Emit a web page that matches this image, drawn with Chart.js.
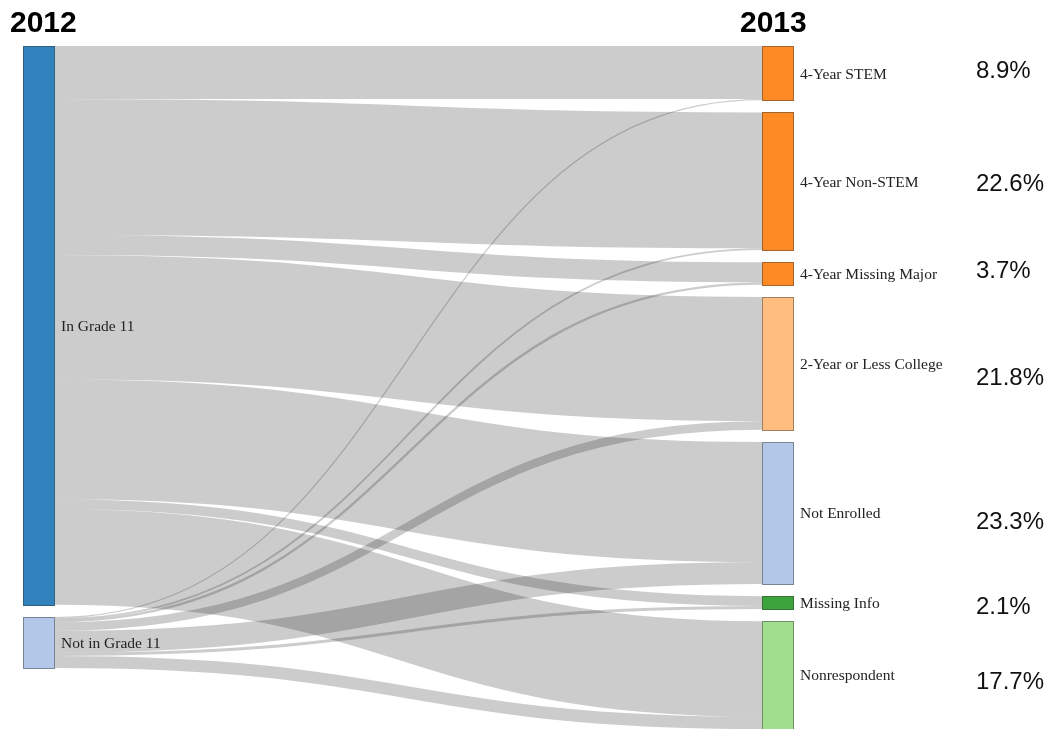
<!DOCTYPE html>
<html>
<head>
<meta charset="utf-8">
<title>2012 to 2013 flows</title>
<script src="https://cdn.jsdelivr.net/npm/chart.js@4.4.1/dist/chart.umd.min.js"></script>
<style>
    html, body { margin: 0; padding: 0; background: #fff; overflow: hidden; }
    #wrap { position: relative; width: 1050px; height: 729px; }
</style>
</head>
<body>
<div id="wrap"><canvas id="sankey"></canvas></div>
<script>
// Column titles
const columnTitles = ['2012', '2013'];

// Left column (2012) nodes
const sourceNodes = ['In Grade 11', 'Not in Grade 11'];
const sourceColors = ['#3182bd', '#b3c8e8'];

// Right column (2013) nodes
const targetNodes = ['4-Year STEM', '4-Year Non-STEM', '4-Year Missing Major', '2-Year or Less College', 'Not Enrolled', 'Missing Info', 'Nonrespondent'];
const targetColors = ['#fd8a24', '#fd8a24', '#fd8a24', '#ffbd80', '#b3c8e8', '#3ca43c', '#a1df8f'];

// Flows, in percent of all students, one value per 2013 node
const fromInGrade11 = [8.7, 22.3, 3.3, 20.4, 19.7, 1.6, 15.7];
const fromNotInGrade11 = [0.2, 0.3, 0.4, 1.4, 3.6, 0.5, 2.0];

// Share labels printed beside the 2013 column
const targetShares = ['8.9%', '22.6%', '3.7%', '21.8%', '23.3%', '2.1%', '17.7%'];

const flows = [fromInGrade11, fromNotInGrade11];
const NODE_PAD = 2;      // gap between nodes, in data units
const NODE_WIDTH = 32;   // px
// the share labels were placed by hand next to the nodes, not exactly centred
const shareNudge = [-2, 3, -2, 15, 9, 5, 7];

// lay out the nodes in data units (top to bottom)
function layoutColumn(values) {
    let y = 0;
    return values.map(v => {
        const n = { y0: y, y1: y + v, value: v };
        y += v + NODE_PAD;
        return n;
    });
}

const sourceTotals = flows.map(arr => arr.reduce((a, b) => a + b, 0));
const targetTotals = targetNodes.map((_, j) => flows.reduce((s, arr) => s + arr[j], 0));
const srcLayout = layoutColumn(sourceTotals);
const tgtLayout = layoutColumn(targetTotals);
const yMax = tgtLayout[tgtLayout.length - 1].y1;

function darker(hex) {
    const c = parseInt(hex.slice(1), 16);
    const f = 0.55;
    const r = Math.round(((c >> 16) & 255) * f);
    const g = Math.round(((c >> 8) & 255) * f);
    const b = Math.round((c & 255) * f);
    return `rgba(${r},${g},${b},0.8)`;
}

const sankeyPlugin = {
    id: 'sankeyPlugin',
    afterDraw(chart) {
        const { ctx, scales: { x, y } } = chart;
        const xl0 = x.getPixelForValue(0);
        const xl1 = xl0 + NODE_WIDTH;
        const xr1 = x.getPixelForValue(1);
        const xr0 = xr1 - NODE_WIDTH;
        ctx.save();

        // links: source offsets go down in target order, target offsets in source order
        const tgtOffset = tgtLayout.map(n => n.y0);
        srcLayout.forEach((src, i) => {
            let sy = src.y0;
            flows[i].forEach((v, j) => {
                const ya = y.getPixelForValue(sy + v / 2);
                const yb = y.getPixelForValue(tgtOffset[j] + v / 2);
                const w = Math.max(1, Math.abs(y.getPixelForValue(v) - y.getPixelForValue(0)));
                const xm = (xl1 + xr0) / 2;
                ctx.beginPath();
                ctx.moveTo(xl1, ya);
                ctx.bezierCurveTo(xm, ya, xm, yb, xr0, yb);
                ctx.strokeStyle = 'rgba(0,0,0,0.2)';
                ctx.lineWidth = w;
                ctx.stroke();
                sy += v;
                tgtOffset[j] += v;
            });
        });

        // nodes
        const drawNode = (x0, n, color) => {
            const top = Math.round(y.getPixelForValue(n.y0)) + 0.5;
            const bot = Math.round(y.getPixelForValue(n.y1)) + 0.5;
            ctx.fillStyle = color;
            ctx.fillRect(x0 + 0.5, top, NODE_WIDTH - 1, bot - top);
            ctx.strokeStyle = darker(color);
            ctx.lineWidth = 1;
            ctx.strokeRect(x0 + 0.5, top, NODE_WIDTH - 1, bot - top);
        };
        srcLayout.forEach((n, i) => drawNode(xl0, n, sourceColors[i]));
        tgtLayout.forEach((n, j) => drawNode(xr0, n, targetColors[j]));

        // node labels (baseline at centre + .35em, as d3 does)
        ctx.font = '15.5px "Liberation Serif", "Times New Roman", serif';
        ctx.textBaseline = 'alphabetic';
        ctx.textAlign = 'left';
        ctx.fillStyle = '#222';
        srcLayout.forEach((n, i) => {
            ctx.fillText(sourceNodes[i], xl1 + 6, y.getPixelForValue((n.y0 + n.y1) / 2) + 5.4);
        });
        tgtLayout.forEach((n, j) => {
            ctx.fillText(targetNodes[j], xr1 + 6, y.getPixelForValue((n.y0 + n.y1) / 2) + 5.4);
        });

        // share labels
        ctx.font = '24px "Liberation Sans", Arial, sans-serif';
        ctx.textBaseline = 'middle';
        ctx.fillStyle = '#111';
        tgtLayout.forEach((n, j) => {
            ctx.fillText(targetShares[j], xr1 + 182, y.getPixelForValue((n.y0 + n.y1) / 2) + shareNudge[j]);
        });

        // column titles
        ctx.font = 'bold 30px "Liberation Sans", Arial, sans-serif';
        ctx.textBaseline = 'alphabetic';
        ctx.fillStyle = '#000';
        ctx.fillText(columnTitles[0], xl0 - 13, 32);
        ctx.fillText(columnTitles[1], xr0 - 22, 32);

        ctx.restore();
    }
};

new Chart(document.getElementById('sankey'), {
    type: 'scatter',
    data: { datasets: [{ data: [] }] },
    options: {
        responsive: true,
        maintainAspectRatio: false,
        animation: false,
        layout: { padding: { left: 23, right: 256, top: 46, bottom: 0 } },
        plugins: { legend: { display: false }, tooltip: { enabled: false } },
        scales: {
            x: { type: 'linear', min: 0, max: 1, display: false },
            y: { type: 'linear', min: 0, max: yMax, reverse: true, display: false }
        }
    },
    plugins: [sankeyPlugin]
});
</script>
</body>
</html>
